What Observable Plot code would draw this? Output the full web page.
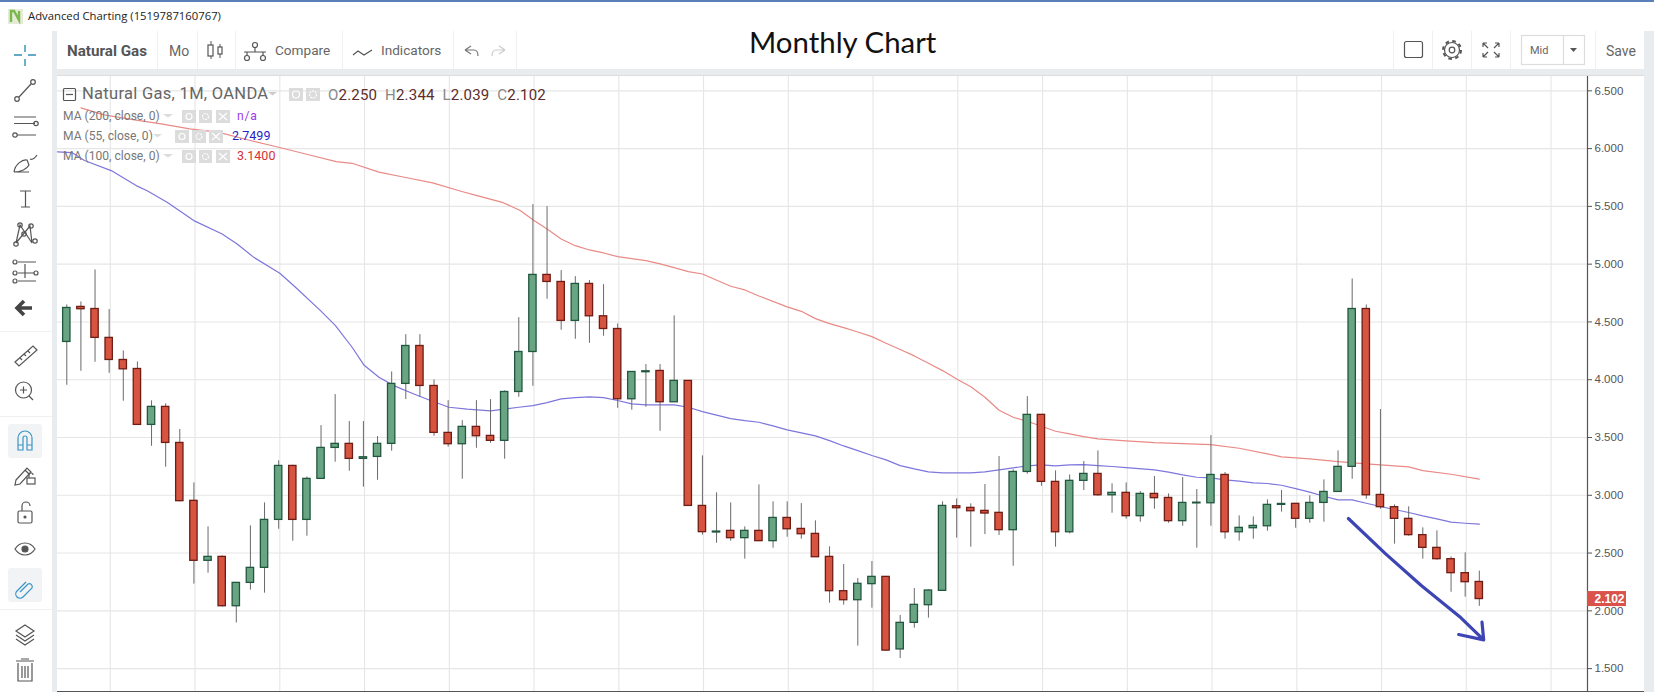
<!DOCTYPE html>
<html>
<head>
<meta charset="utf-8">
<script src="https://cdn.jsdelivr.net/npm/d3@7"></script>
<script src="https://cdn.jsdelivr.net/npm/@observablehq/plot@0.6"></script>
<style>
html,body{margin:0;padding:0;background:#fff;}
#page{position:relative;width:1654px;height:692px;overflow:hidden;background:#fff;font-family:"Liberation Sans",Arial,sans-serif;}
#page span{position:absolute;white-space:nowrap;line-height:1;}
.band{position:absolute;background:#e9ecef;}
.sep{position:absolute;background:#eef0f2;}
#chart{position:absolute;left:57px;top:76px;}
#icons{position:absolute;left:0;top:0;pointer-events:none;}
.tb{font-family:Roboto,sans-serif;font-size:14px;color:#666;}
.ma{font-family:Roboto,sans-serif;font-size:12.1px;color:#777;}
.ohlc{font-family:Roboto,sans-serif;font-size:15px;color:#888;letter-spacing:.2px;}
.ohlc b{font-weight:400;color:#5e2b2b;}
</style>
</head>
<body>
<div id="page">
  <div style="position:absolute;left:0;top:0;width:1654px;height:1.5px;background:#5b7fb8"></div>
  <div class="band" style="left:52px;top:31px;width:5px;height:661px"></div>
  <div class="band" style="left:52px;top:69px;width:1592px;height:6px"></div>
  <div class="band" style="left:1644px;top:31px;width:10px;height:661px"></div>
  <div style="position:absolute;left:57px;top:75px;width:1587px;height:1px;background:#ddd"></div>
  <div class="sep" style="left:157px;top:31px;width:1px;height:38px"></div>
  <div class="sep" style="left:197px;top:31px;width:1px;height:38px"></div>
  <div class="sep" style="left:235px;top:31px;width:1px;height:38px"></div>
  <div class="sep" style="left:342px;top:31px;width:1px;height:38px"></div>
  <div class="sep" style="left:453px;top:31px;width:1px;height:38px"></div>
  <div class="sep" style="left:516px;top:31px;width:1px;height:38px"></div>
  <div class="sep" style="left:1393px;top:31px;width:1px;height:38px"></div>
  <div class="sep" style="left:1432px;top:31px;width:1px;height:38px"></div>
  <div class="sep" style="left:1471px;top:31px;width:1px;height:38px"></div>
  <div class="sep" style="left:1510px;top:31px;width:1px;height:38px"></div>
  <div class="sep" style="left:1595px;top:31px;width:1px;height:38px"></div>
  <div class="sep" style="left:0;top:331px;width:52px;height:1px"></div>
  <div class="sep" style="left:0;top:416px;width:52px;height:1px"></div>
  <div class="sep" style="left:0;top:609px;width:52px;height:1px"></div>
  <div style="position:absolute;left:8px;top:424px;width:34px;height:34px;background:#f1f3f5;border-radius:3px"></div>
  <div style="position:absolute;left:8px;top:568px;width:34px;height:34px;background:#f1f3f5;border-radius:3px"></div>

  <div id="chart"></div>
  <div style="position:absolute;left:57px;top:691px;width:1587px;height:1px;background:#555"></div>

  <span style="left:28px;top:10px;font-family:'Open Sans',sans-serif;font-size:11.3px;color:#222">Advanced Charting (1519787160767)</span>
  <span style="left:749px;top:27px;font-family:Lato,sans-serif;font-size:29.4px;color:#111">Monthly Chart</span>

  <span class="tb" style="left:67px;top:43.5px;font-weight:700;color:#555;font-size:15.2px">Natural Gas</span>
  <span class="tb" style="left:169px;top:43.5px">Mo</span>
  <span class="tb" style="left:275px;top:43.5px;font-size:13.6px">Compare</span>
  <span class="tb" style="left:381px;top:43.5px;font-size:13.6px">Indicators</span>
  <span style="left:1530px;top:45px;font-family:Roboto,sans-serif;font-size:11px;color:#666">Mid</span>
  <span class="tb" style="left:1606px;top:43.5px">Save</span>

  <span style="left:82px;top:86px;font-family:Roboto,sans-serif;font-size:16.5px;font-weight:400;color:#666;letter-spacing:.3px">Natural Gas, 1M, OANDA</span>
  <span class="ohlc" style="left:328px;top:87.5px">O<b>2.250</b>&nbsp; H<b>2.344</b>&nbsp; L<b>2.039</b>&nbsp; C<b>2.102</b></span>
  <span class="ma" style="left:63px;top:110px">MA (200, close, 0)</span>
  <span class="ma" style="left:237px;top:110px;color:#9a3be8;letter-spacing:.8px">n/a</span>
  <span class="ma" style="left:63px;top:130px">MA (55, close, 0)</span>
  <span class="ma" style="left:232px;top:130px;color:#1f1fc4;font-size:12.5px">2.7499</span>
  <span class="ma" style="left:63px;top:150px">MA (100, close, 0)</span>
  <span class="ma" style="left:237px;top:150px;color:#d93030;font-size:12.5px">3.1400</span>

  <svg id="icons" width="1654" height="692" fill="none" stroke="#555" stroke-width="1.2">
    <!-- window icon -->
    <rect x="8" y="9" width="15" height="15" fill="#e4ecd8" stroke="none"/>
    <path d="M11 22 L11 11 L14 11 L19 20 L19 11" stroke="#7ab84e" stroke-width="2.4"/>
    <!-- left tools -->
    <path d="M25 45v7M25 59v7M14 55h8M28 55h8" stroke="#2f8fb5" stroke-width="1.4"/>
    <path d="M19 97L31 84"/><circle cx="17" cy="99" r="2.3"/><circle cx="33" cy="82" r="2.3"/>
    <path d="M14 117h22M14 123.500h21M17 135h19"/><circle cx="36" cy="123.500" r="2.200"/><circle cx="15" cy="135" r="2.200"/>
    <path d="M14 172c1-8 9-13 13-12l2 5c-2 4-8 7-15 7h15M30 159c2 1 5-1 7-4"/>
    <path d="M20 191h11M25.500 191v16M21 207h9"/>
    <path d="M16 243L20 225L32 243L30 226L16 243"/><circle cx="20" cy="225" r="2.200"/><circle cx="31" cy="226" r="2.200"/><circle cx="16" cy="244" r="2.200"/><circle cx="35" cy="241" r="2.200"/><circle cx="24" cy="234" r="2.200"/>
    <path d="M18 262h18M18 273h16M18 281h18M25 264v14"/><circle cx="15" cy="262" r="2"/><circle cx="15" cy="273" r="2"/><circle cx="15" cy="281" r="2"/><circle cx="36" cy="273" r="2"/>
    <path d="M18 308h14M24 301l-7 7 7 7" stroke="#444" stroke-width="3.600"/>
    <path d="M15 362L33 346L37 350L19 366Z M20 358l2 2M24 354l2 2M28 351l2 2" />
    <circle cx="23.500" cy="390" r="8"/><path d="M20 390h7M23.500 386.500v7M29 396l4 4"/>
    <path d="M18 450v-12a7 7 0 0 1 14 0v12h-5v-12a2 2 0 0 0-4 0v12zM18 445h5M27 445h5" stroke="#3b94c8"/>
    <path d="M16 480l11-12 4 4-11 12-5 1zM25 470l4 4"/><rect x="27" y="478" width="8" height="6"/><path d="M29 478v-3a2 2 0 0 1 4 0"/>
    <rect x="18" y="511" width="14" height="12" rx="1.500"/><path d="M22 511v-5a4 4 0 0 1 8 0"/><circle cx="25" cy="517" r="1" fill="#555"/>
    <path d="M15 549c5-8 15-8 20 0c-5 8-15 8-20 0z"/><circle cx="25" cy="549" r="3" fill="#555"/>
    <path d="M20 592l8-8a3 3 0 0 1 4 4l-9 9a4 4 0 0 1-6-6l9-9" stroke="#3b94c8"/>
    <path d="M25 625l9 6-9 6-9-6zM16 635l9 6 9-6M16 639l9 6 9-6"/>
    <path d="M18 663v18h14v-18M16 661h18M21 659h8M22 666v12M25 666v12M28 666v12"/>
    <!-- top bar -->
    <path d="M211 41v18M220 44v14" stroke-width="1"/><rect x="208" y="45" width="5" height="11" fill="#fff"/><rect x="218" y="47" width="4" height="7" fill="#fff"/>
    <circle cx="255" cy="45" r="2.500"/><circle cx="247" cy="58" r="2.500"/><circle cx="263" cy="58" r="2.500"/><path d="M244 52h22M247 52v4M263 52v4M255 48v4"/>
    <path d="M353 55l5-4 6 4 8-5"/>
    <path d="M465 50l6-4M465 50l6 4M465 50h9c3 0 4 2 4 6" stroke="#777"/>
    <path d="M505 50l-6-4M505 50l-6 4M505 50h-9c-3 0-4 2-4 6" stroke="#ccc"/>
    <rect x="1404.500" y="41.500" width="18" height="16" rx="2"/>
    <circle cx="1452" cy="50" r="9" stroke-width="2" stroke-dasharray="3.600 3.470"/><circle cx="1452" cy="50" r="7.500" fill="#fff"/><circle cx="1452" cy="50" r="2.800"/>
    <path d="M1483 43l5 5M1483 43v4M1483 43h4M1499 43l-5 5M1499 43v4M1499 43h-4M1483 57l5-5M1483 57v-4M1483 57h4M1499 57l-5-5M1499 57v-4M1499 57h-4"/>
    <rect x="1521.500" y="35.500" width="63" height="29" stroke="#ddd"/><path d="M1563.500 35v30" stroke="#ddd"/>
    <path d="M1570 48h7l-3.500 4z" fill="#555" stroke="none"/>
    <!-- legend -->
    <rect x="63.500" y="88.500" width="12" height="12" rx="1"/><path d="M66 94.500h7"/>
    <path d="M268 92h9l-4.500 3.500z" fill="#ccc" stroke="none"/>
    <rect x="289" y="88" width="14" height="13" fill="#dcdcdc" stroke="none"/><circle cx="296" cy="94.500" r="3.500" stroke="#fff"/>
    <rect x="306" y="88" width="14" height="13" fill="#dcdcdc" stroke="none"/><circle cx="313" cy="94.500" r="3.500" stroke="#fff" stroke-dasharray="2 1"/>
    <g fill="#dcdcdc" stroke="none"><path d="M163 114h10l-5 3.500zM182 110h14v13h-14zM199 110h13v13h-13zM216 110h14v13h-14z"/>
      <path d="M153 134h9l-4.500 3.500zM175 130h14v13h-14zM192 130h14v13h-14zM209 130h14v13h-14z"/>
      <path d="M163 154h10l-5 3.500zM182 150h14v13h-14zM199 150h13v13h-13zM216 150h14v13h-14z"/></g>
    <g stroke="#fff"><circle cx="189" cy="116.500" r="3"/><circle cx="205.500" cy="116.500" r="3" stroke-dasharray="2 1"/><path d="M219 113l8 7M227 113l-8 7"/>
      <circle cx="182" cy="136.500" r="3"/><circle cx="199" cy="136.500" r="3" stroke-dasharray="2 1"/><path d="M212 133l8 7M220 133l-8 7"/>
      <circle cx="189" cy="156.500" r="3"/><circle cx="205.500" cy="156.500" r="3" stroke-dasharray="2 1"/><path d="M219 153l8 7M227 153l-8 7"/></g>
  </svg>
</div>
<script>
const opens = [4.327,4.63,4.612,4.362,4.171,4.093,3.609,3.765,3.453,2.952,2.433,2.467,2.04,2.242,2.372,2.787,3.254,2.787,3.142,3.41,3.445,3.315,3.332,3.445,3.964,4.292,3.946,3.54,3.442,3.592,3.514,3.471,3.894,4.24,4.907,4.846,4.509,4.829,4.549,4.439,3.831,4.065,4.076,3.805,3.99,2.908,2.678,2.692,2.629,2.692,2.603,2.804,2.709,2.666,2.467,2.17,2.092,2.231,2.294,1.666,1.896,2.049,2.173,2.905,2.891,2.865,2.848,2.698,3.202,3.696,3.116,2.68,3.125,3.185,3.0,3.021,2.819,3.012,2.977,2.776,2.93,2.931,3.176,2.68,2.715,2.732,2.917,2.926,2.796,2.934,3.029,3.246,4.612,3.003,2.897,2.796,2.655,2.545,2.447,2.326,2.25];
const highs = [4.647,4.673,4.95,4.607,4.249,4.154,3.817,3.791,3.569,3.107,2.727,2.476,2.242,2.735,2.934,3.298,3.26,3.159,3.603,3.871,3.638,3.638,3.508,4.067,4.39,4.39,3.998,3.819,3.646,3.819,3.828,3.903,4.537,5.515,5.498,4.944,4.892,4.858,4.823,4.483,4.067,4.131,4.131,4.552,3.99,3.341,3.021,2.934,2.727,3.09,2.943,2.943,2.928,2.779,2.554,2.401,2.28,2.427,2.294,1.96,2.193,2.182,2.943,2.969,2.926,3.093,3.335,3.22,3.854,3.696,3.211,3.176,3.292,3.384,3.099,3.107,3.032,3.162,3.012,3.153,3.05,3.517,3.197,2.822,2.813,2.96,3.041,2.926,2.995,3.133,3.384,4.872,4.647,3.742,2.917,2.9,2.718,2.692,2.467,2.502,2.344];
const lows = [3.952,4.073,4.151,4.056,3.814,3.609,3.424,3.243,2.943,2.231,2.326,2.032,1.895,2.179,2.153,2.706,2.603,2.646,3.142,3.286,3.208,3.07,3.13,3.381,3.828,3.848,3.511,3.416,3.139,3.407,3.45,3.312,3.848,3.943,4.696,4.428,4.35,4.315,4.376,3.753,3.736,3.762,3.554,3.805,2.908,2.655,2.585,2.603,2.447,2.603,2.542,2.637,2.62,2.464,2.066,2.049,1.695,2.023,1.65,1.587,1.85,1.937,2.173,2.629,2.551,2.66,2.652,2.386,3.182,3.078,2.551,2.666,3.041,2.992,2.845,2.793,2.767,2.879,2.758,2.732,2.542,2.732,2.62,2.603,2.62,2.689,2.854,2.715,2.758,2.767,3.029,3.139,2.966,2.879,2.577,2.646,2.447,2.438,2.161,2.118,2.039];
const closes = [4.621,4.61,4.362,4.171,4.09,3.609,3.765,3.453,2.949,2.433,2.467,2.04,2.242,2.372,2.787,3.254,2.787,3.142,3.41,3.445,3.315,3.329,3.445,3.964,4.292,3.946,3.54,3.442,3.592,3.511,3.471,3.894,4.24,4.907,4.846,4.509,4.829,4.549,4.439,3.831,4.067,4.073,3.805,3.99,2.908,2.681,2.686,2.629,2.692,2.603,2.804,2.706,2.663,2.464,2.17,2.092,2.234,2.294,1.656,1.896,2.052,2.176,2.908,2.888,2.862,2.842,2.698,3.202,3.696,3.116,2.68,3.125,3.185,3.0,3.021,2.819,3.012,2.975,2.776,2.934,2.936,3.176,2.68,2.718,2.735,2.917,2.925,2.796,2.934,3.029,3.246,4.612,3.0,2.897,2.796,2.655,2.545,2.447,2.326,2.248,2.102];

const ma100Index = [1,2.64,4.79,6.68,8.7,10.7,13,15,17.05,19.07,20.2,22.1,23.9,25.9,27.9,29.05,30.9,32.1,33,34,35,36,37,38,39,41,42,43,44,45,47,48,49,51,52,53,54,55,56,57,58,59,60,61,62,63,64,65,66,67,68,69,70,71,72,73,75,77,79,81,83,85,86,88,90,92,94,95,96,98,100];
const ma100Value = [6.353,6.292,6.249,6.214,6.171,6.142,6.07,6.012,5.949,5.888,5.873,5.796,5.752,5.703,5.631,5.593,5.532,5.465,5.385,5.304,5.218,5.16,5.123,5.097,5.065,5.031,5.002,4.97,4.935,4.915,4.809,4.777,4.725,4.63,4.592,4.529,4.486,4.451,4.413,4.373,4.315,4.261,4.206,4.142,4.079,4.007,3.94,3.848,3.736,3.675,3.641,3.597,3.554,3.531,3.508,3.488,3.471,3.456,3.447,3.439,3.407,3.358,3.332,3.315,3.292,3.272,3.254,3.246,3.214,3.182,3.14];
const ma55Index = [-0.66,0.36,1.25,3.14,4.91,5.69,7.1,8.99,11,12.06,13.24,15.08,16.19,17.96,19.02,20.2,21.03,22.1,23.15,24.57,25.75,27.05,28.35,30,32,33,34,35,36,37,38,39,40,41,43,44,45,46,47,48,49,50,51,52,53,54,55,56,57,58,59,60,61,62,63,64,65,66,67,68,69,70,71,72,73,74,75,77,78,79,80,81,82,83,84,85,86,87,88,89,90,91,92,93,94,95,96,97,98,99,100];
const ma55Value = [5.972,5.966,5.897,5.81,5.68,5.636,5.535,5.377,5.261,5.175,5.059,4.921,4.8,4.598,4.468,4.281,4.128,4.021,3.949,3.877,3.82,3.762,3.745,3.73,3.762,3.776,3.802,3.834,3.845,3.851,3.845,3.82,3.791,3.782,3.782,3.762,3.724,3.693,3.664,3.646,3.632,3.6,3.566,3.54,3.514,3.473,3.427,3.387,3.344,3.306,3.257,3.228,3.202,3.194,3.194,3.194,3.202,3.22,3.237,3.254,3.263,3.254,3.263,3.266,3.257,3.249,3.24,3.22,3.2,3.176,3.156,3.15,3.133,3.122,3.107,3.102,3.087,3.058,3.027,2.992,2.96,2.96,2.931,2.903,2.877,2.851,2.822,2.796,2.767,2.758,2.75];

const trendIndex = [90.73,93.37,95.89,98.7,100.31,98.54,100.31,100.19];
const trendValue = [2.799,2.493,2.219,1.94,1.749,1.795,1.749,1.902];

const priceTicks = [1.5,2,2.5,3,3.5,4,4.5,5,5.5,6,6.5];
const gridIndex = [3.08,9.08,15.08,21.08,27.08,33.08,39.08,45.08,51.08,57.08,63.08,69.08,75.08,81.08,87.08,93.08,99.08,105.08];
const xDomain = [-0.658,107.66];
const yDomain = [1.302,6.624];
const lastPrice = [2.102];

const candles = opens.map((o,i)=>({i,o,h:highs[i],l:lows[i],c:closes[i],up:closes[i]>=o}));
const green = candles.filter(d=>d.up), red = candles.filter(d=>!d.up);
const half = 0.26;
const bodies = (data,fill,stroke)=>Plot.rect(data,{x1:d=>d.i-half,x2:d=>d.i+half,y1:d=>Math.min(d.o,d.c),y2:d=>Math.max(d.o,d.c),fill,stroke,strokeWidth:1.3});

const chart = Plot.plot({
  width:1587,height:615,marginLeft:0,marginRight:57,marginTop:0,marginBottom:0,
  style:{fontFamily:'"Liberation Sans",Arial,sans-serif',background:"transparent",overflow:"visible"},
  x:{domain:xDomain,axis:null},
  y:{domain:yDomain,axis:null},
  marks:[
    Plot.ruleX(gridIndex,{stroke:"#e6e6e6",strokeWidth:1.1}),
    Plot.ruleY(priceTicks,{stroke:"#e6e6e6",strokeWidth:1.1}),
    Plot.line(ma100Index.map((x,k)=>({x,y:ma100Value[k]})),{x:"x",y:"y",stroke:"#e98a86",strokeWidth:1.2}),
    Plot.line(ma55Index.map((x,k)=>({x,y:ma55Value[k]})),{x:"x",y:"y",stroke:"#7d76dc",strokeWidth:1.2}),
    Plot.ruleX(candles,{x:"i",y1:"l",y2:"h",stroke:"#6a6a6a",strokeWidth:1}),
    bodies(green,"#69a583","#22573f"),
    bodies(red,"#d65440","#6e1c14"),
    Plot.line(trendIndex.map((x,k)=>({x,y:trendValue[k]})),{x:"x",y:"y",stroke:"#3d45b5",strokeWidth:3.2,strokeLinejoin:"round",strokeLinecap:"round",curve:"linear"}),
    Plot.ruleX([xDomain[1]],{stroke:"#555",strokeWidth:1.2}),
    Plot.axisY(priceTicks,{anchor:"right",label:null,tickSize:4,tickPadding:3,tickFormat:".3f",fontSize:11.5,color:"#555"}),
    Plot.rect(lastPrice,{x1:xDomain[1],x2:110.42,y1:d=>d-0.065,y2:d=>d+0.065,fill:"#d9534a"}),
    Plot.text(lastPrice,{x:xDomain[1],dx:7,y:d=>d,text:d=>d3.format(".3f")(d),textAnchor:"start",fill:"#fff",fontWeight:"bold",fontSize:12})
  ]
});
document.getElementById("chart").appendChild(chart);
</script>
</body>
</html>
